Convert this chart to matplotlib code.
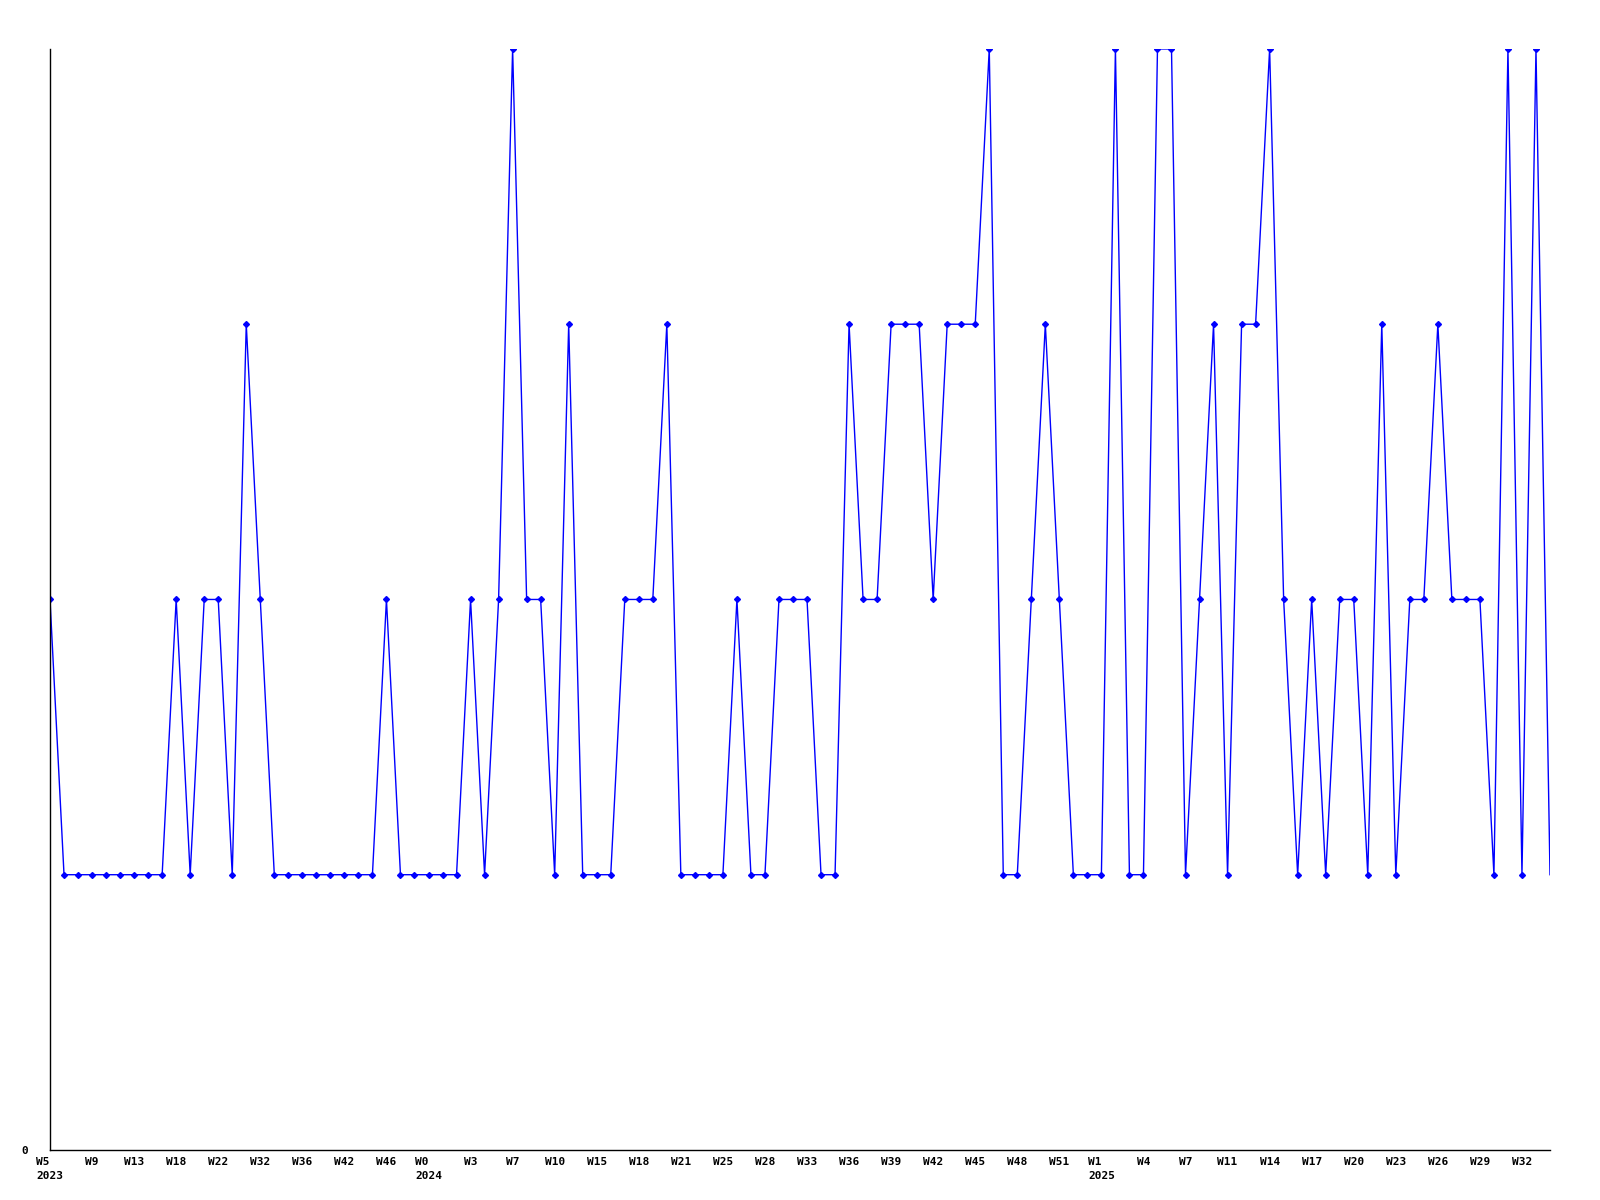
import matplotlib
matplotlib.use('Agg')
import matplotlib.pyplot as plt

# weekly values, one per week (108 weeks)
values = [2, 1, 1, 1, 1, 1, 1, 1, 1, 2,
          1, 2, 2, 1, 3, 2, 1, 1, 1, 1,
          1, 1, 1, 1, 2, 1, 1, 1, 1, 1,
          2, 1, 2, 4, 2, 2, 1, 3, 1, 1,
          1, 2, 2, 2, 3, 1, 1, 1, 1, 2,
          1, 1, 2, 2, 2, 1, 1, 3, 2, 2,
          3, 3, 3, 2, 3, 3, 3, 4, 1, 1,
          2, 3, 2, 1, 1, 1, 4, 1, 1, 4,
          4, 1, 2, 3, 1, 3, 3, 4, 2, 1,
          2, 1, 2, 2, 1, 3, 1, 2, 2, 3,
          2, 2, 2, 1, 4, 1, 4, 1]

# tick labels, every third week
week_labels = ['W5', 'W9', 'W13', 'W18', 'W22', 'W32', 'W36', 'W42', 'W46',
               'W0', 'W3', 'W7', 'W10', 'W15', 'W18', 'W21', 'W25', 'W28',
               'W33', 'W36', 'W39', 'W42', 'W45', 'W48', 'W51',
               'W1', 'W4', 'W7', 'W11', 'W14', 'W17', 'W20', 'W23', 'W26',
               'W29', 'W32']
year_labels = {0: '2023', 9: '2024', 25: '2025'}

x = list(range(len(values)))
tick_pos = x[::3]
tick_text = []
for i, w in enumerate(week_labels):
    if i in year_labels:
        tick_text.append(w + '\n' + year_labels[i])
    else:
        tick_text.append(w)

fig = plt.figure(figsize=(16, 12), dpi=100)
ax = fig.add_axes([0.03125, 0.0417, 0.9375, 0.9175])

ax.plot(x, values, color='#0000ff', linewidth=1,
        marker='D', markersize=3, markevery=list(range(len(values) - 1)))

ax.set_xlim(0, len(values) - 1)
ax.set_ylim(0, 4)

ax.spines['top'].set_visible(False)
ax.spines['right'].set_visible(False)
ax.spines['left'].set_linewidth(1)
ax.spines['bottom'].set_linewidth(1)

ax.set_yticks([0])
ax.set_yticklabels(['0'], family='DejaVu Sans Mono', weight='bold', fontsize=8)
ax.set_xticks(tick_pos)
ax.set_xticklabels(tick_text, family='DejaVu Sans Mono', weight='bold',
                   fontsize=8, multialignment='left', linespacing=1.5)
ax.tick_params(axis='y', length=0, pad=16)
ax.tick_params(axis='x', length=0, pad=5)

fig.savefig('out.png', dpi=100)
